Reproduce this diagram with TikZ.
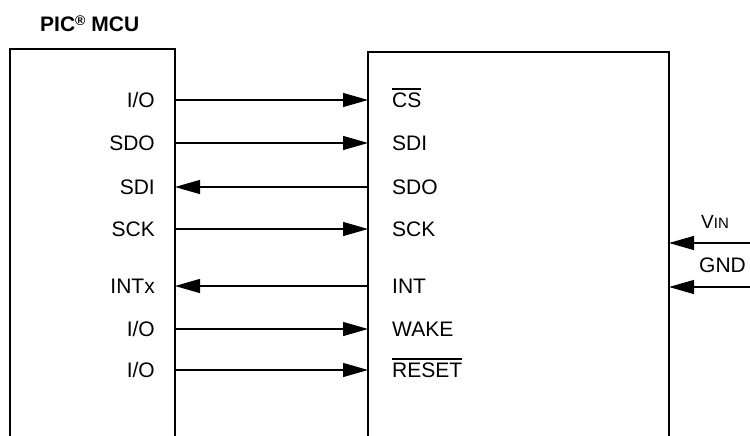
\documentclass[tikz,border=0pt]{standalone}
\usepackage{fontspec}
\setmainfont{Liberation Sans}
\usetikzlibrary{arrows.meta}
\newcommand{\ovbar}[1]{\leavevmode\vbox{\hrule height 1.2pt \kern 3.2pt \hbox{#1}}}
\tikzset{
  lbl/.style={inner sep=0pt, text height=15pt, text depth=0pt, font=\fontsize{21}{25}\selectfont},
  sig/.style={line width=1.3pt, -{Triangle[length=25pt,width=14pt]}},
  boxline/.style={line width=1.4pt},
}
\begin{document}
\begin{tikzpicture}[x=1pt,y=-1pt]
\useasboundingbox (0,0) rectangle (750,436);
% title
\node[anchor=base west, inner sep=0pt, font=\fontsize{21}{25}\selectfont\bfseries] (title) at (40,31.7) {PIC{\fontsize{14}{14}\selectfont\raisebox{6pt}{®}} MCU};
% boxes (open at the bottom)
\draw[boxline] (10,436) -- (10,49) -- (175,49) -- (175,436);
\draw[boxline] (368,436) -- (368,52) -- (669,52) -- (669,436);
% pin coordinates
\foreach \n/\y in {1/100,2/143,3/187,4/229,5/286,6/329,7/370}{
  \coordinate (l\n) at (175,\y);
  \coordinate (r\n) at (368,\y);
}
% left labels
\node[lbl, anchor=east] (a1) at (155,100) {I/O};
\node[lbl, anchor=east] (a2) at (155,143) {SDO};
\node[lbl, anchor=east] (a3) at (155,187) {SDI};
\node[lbl, anchor=east] (a4) at (155,229) {SCK};
\node[lbl, anchor=east] (a5) at (155,286) {INTx};
\node[lbl, anchor=east] (a6) at (155,329) {I/O};
\node[lbl, anchor=east] (a7) at (155,370) {I/O};
% right labels
\node[lbl, anchor=west] (b1) at (392,100) {\ovbar{CS}};
\node[lbl, anchor=west] (b2) at (392,143) {SDI};
\node[lbl, anchor=west] (b3) at (392,187) {SDO};
\node[lbl, anchor=west] (b4) at (392,229) {SCK};
\node[lbl, anchor=west] (b5) at (392,286) {INT};
\node[lbl, anchor=west] (b6) at (392,329) {WAKE};
\node[lbl, anchor=west] (b7) at (392,370) {\ovbar{RESET}};
% signal arrows
\draw[sig] (l1) -- (r1);
\draw[sig] (l2) -- (r2);
\draw[sig] (r3) -- (l3);
\draw[sig] (l4) -- (r4);
\draw[sig] (r5) -- (l5);
\draw[sig] (l6) -- (r6);
\draw[sig] (l7) -- (r7);
% supply pins
\coordinate (vine) at (750,243);
\coordinate (vinb) at (669,243);
\coordinate (gnde) at (750,287);
\coordinate (gndb) at (669,287);
\draw[sig] (vine) -- (vinb);
\draw[sig] (gnde) -- (gndb);
\node[anchor=base west, inner sep=0pt] (vin) at (701,228) {\fontsize{19}{21}\selectfont V\fontsize{15}{17}\selectfont IN};
\node[anchor=base west, inner sep=0pt, font=\fontsize{21}{25}\selectfont] (gnd) at (699,272) {GND};
\end{tikzpicture}
\end{document}
